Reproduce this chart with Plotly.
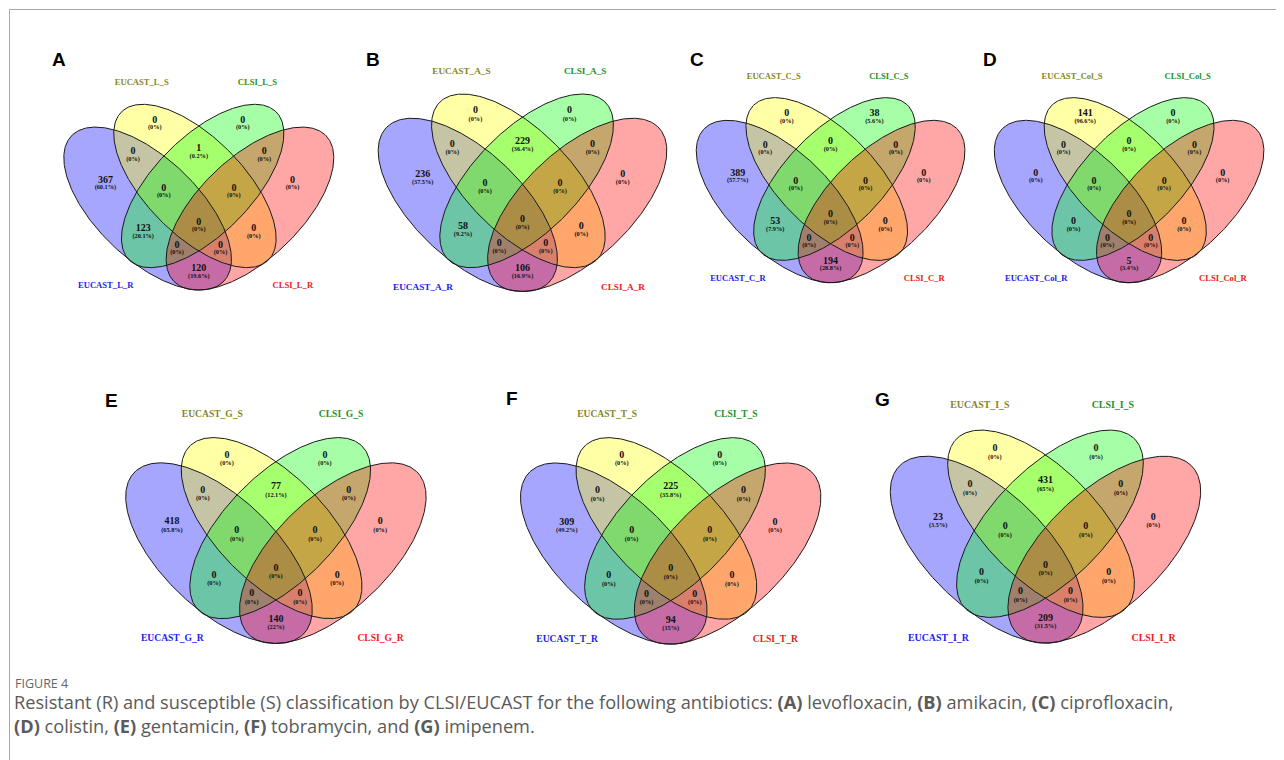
import numpy as np
import plotly.graph_objects as go

# ---------------- data ----------------
panel_letters = ["A", "B", "C", "D", "E", "F", "G"]
drug_codes = ["L", "A", "C", "Col", "G", "T", "I"]
# region order: Y=EUCAST_S, G=CLSI_S, B=EUCAST_R, R=CLSI_R
region_keys = ["Y", "G", "BY", "YG", "GR", "B", "R", "BYG", "YGR", "BYGR", "BG", "RY", "BGR", "BYR", "BR"]
counts_A = [0, 0, 0, 1, 0, 367, 0, 0, 0, 0, 123, 0, 0, 0, 120]
counts_B = [0, 0, 0, 229, 0, 236, 0, 0, 0, 0, 58, 0, 0, 0, 106]
counts_C = [0, 38, 0, 0, 0, 389, 0, 0, 0, 0, 53, 0, 0, 0, 194]
counts_D = [141, 0, 0, 0, 0, 0, 0, 0, 0, 0, 0, 0, 0, 0, 5]
counts_E = [0, 0, 0, 77, 0, 418, 0, 0, 0, 0, 0, 0, 0, 0, 140]
counts_F = [0, 0, 0, 225, 0, 309, 0, 0, 0, 0, 0, 0, 0, 0, 94]
counts_G = [0, 0, 0, 431, 0, 23, 0, 0, 0, 0, 0, 0, 0, 0, 209]
all_counts = [counts_A, counts_B, counts_C, counts_D, counts_E, counts_F, counts_G]

caption_title = "FIGURE 4"
caption_text = ("Resistant (R) and susceptible (S) classification by CLSI/EUCAST for the following antibiotics: "
                "<b>(A)</b> levofloxacin, <b>(B)</b> amikacin, <b>(C)</b> ciprofloxacin,<br>"
                "<b>(D)</b> colistin, <b>(E)</b> gentamicin, <b>(F)</b> tobramycin, and <b>(G)</b> imipenem.")

# ---------------- geometry (4-set ellipse Venn layout, unit square) ----------------
# draw order: EUCAST_R (blue), EUCAST_S (yellow), CLSI_S (green), CLSI_R (red)
# (centre x, centre y, semi-major, semi-minor, angle of major axis in degrees, fill)
ellipses = [
    (0.328, 0.467, 0.361, 0.174, -45.5, "rgba(0,0,255,0.35)"),
    (0.487, 0.546, 0.358, 0.167, -47.0, "rgba(255,255,0,0.35)"),
    (0.513, 0.546, 0.358, 0.167, 47.0, "rgba(0,255,0,0.35)"),
    (0.672, 0.467, 0.361, 0.174, 45.5, "rgba(255,0,0,0.35)"),
]
region_pos = {
    "Y": (0.352, 0.776), "G": (0.648, 0.776),
    "BY": (0.279, 0.665), "YG": (0.500, 0.677), "GR": (0.720, 0.665),
    "B": (0.186, 0.566), "R": (0.815, 0.566),
    "BYG": (0.382, 0.538), "YGR": (0.618, 0.538),
    "BYGR": (0.500, 0.420),
    "BG": (0.313, 0.397), "RY": (0.685, 0.397),
    "BGR": (0.427, 0.339), "BYR": (0.573, 0.339),
    "BR": (0.500, 0.258),
}
cat_pos = [(0.308, 0.905), (0.697, 0.905), (0.187, 0.196), (0.816, 0.196)]
cat_colors = ["#86861a", "#23922a", "#2020f0", "#f01818"]

# page pixels -> figure pixels (the page body has an 8px margin)
OFF = 8
W, H = 1284, 760
# panel placement in page pixels: centre x, x-scale, y of v=0.905, y-scale
placement = [
    (198.8, 297.5, 83.3, 286),
    (522.5, 318.0, 71.7, 304),
    (830.6, 296.0, 76.7, 285),
    (1129.1, 297.0, 76.7, 285),
    (275.9, 331.0, 414.3, 317),
    (670.7, 331.0, 414.3, 318),
    (1045.5, 342.0, 406.0, 328),
]
letter_pos = [(58.8, 59), (373.3, 59), (696.7, 60), (990, 59), (111.7, 400), (512.5, 398), (882.5, 399)]


def fx(px):
    return (px - OFF) / W


def fy(py):
    return 1 - (py - OFF) / H


def fmt_pct(c, tot):
    p = round(100.0 * c / tot, 1)
    return f"({p:g}%)"


fig = go.Figure()
layout_axes = {}
t = np.linspace(0, 2 * np.pi, 361)

for i, (counts, code) in enumerate(zip(all_counts, drug_codes)):
    n = i + 1
    xa = "x" if n == 1 else f"x{n}"
    ya = "y" if n == 1 else f"y{n}"
    cx, sx, y905, sy = placement[i]
    left = cx - 0.5 * sx
    right = cx + 0.5 * sx
    top = y905 - (1 - 0.905) * sy
    bottom = y905 + 0.905 * sy
    layout_axes["xaxis" if n == 1 else f"xaxis{n}"] = dict(
        domain=[fx(left), fx(right)], range=[0, 1], visible=False, fixedrange=True, anchor=ya)
    layout_axes["yaxis" if n == 1 else f"yaxis{n}"] = dict(
        domain=[fy(bottom), fy(top)], range=[0, 1], visible=False, fixedrange=True, anchor=xa)

    outlines = []
    for (ex, ey, a, b, rot, col) in ellipses:
        r = np.deg2rad(rot)
        xs = ex + a * np.cos(t) * np.cos(r) - b * np.sin(t) * np.sin(r)
        ys = ey + a * np.cos(t) * np.sin(r) + b * np.sin(t) * np.cos(r)
        fig.add_trace(go.Scatter(x=xs, y=ys, mode="lines", fill="toself", fillcolor=col,
                                 line=dict(width=0, color="rgba(0,0,0,0)"),
                                 hoverinfo="skip", showlegend=False, xaxis=xa, yaxis=ya))
        outlines.append((xs, ys))
    for xs, ys in outlines:
        fig.add_trace(go.Scatter(x=xs, y=ys, mode="lines", line=dict(width=1, color="#1a1a1a"),
                                 hoverinfo="skip", showlegend=False, xaxis=xa, yaxis=ya))

    tot = sum(counts)
    px = [region_pos[k][0] for k in region_keys]
    py = [region_pos[k][1] for k in region_keys]
    fig.add_trace(go.Scatter(
        x=px, y=py, mode="text", text=[str(c) for c in counts], textposition="middle center",
        textfont=dict(family="Liberation Serif", size=10, color="#111111", weight="bold"),
        hoverinfo="skip", showlegend=False, cliponaxis=False, xaxis=xa, yaxis=ya))
    fig.add_trace(go.Scatter(
        x=px, y=[v - 7.6 / 286 for v in py], mode="text", text=[fmt_pct(c, tot) for c in counts],
        textposition="middle center",
        textfont=dict(family="Liberation Serif", size=6.3, color="#111111", weight="bold"),
        hoverinfo="skip", showlegend=False, cliponaxis=False, xaxis=xa, yaxis=ya))

    cat_names = [f"EUCAST_{code}_S", f"CLSI_{code}_S", f"EUCAST_{code}_R", f"CLSI_{code}_R"]
    fs = 8.6 * sx / 297.5
    fig.add_trace(go.Scatter(
        x=[p[0] for p in cat_pos], y=[p[1] for p in cat_pos], mode="text", text=cat_names,
        textposition="middle center",
        textfont=dict(family="Liberation Serif", size=fs, color=cat_colors, weight="bold"),
        hoverinfo="skip", showlegend=False, cliponaxis=False, xaxis=xa, yaxis=ya))

annotations = []
for letter, (lx, ly) in zip(panel_letters, letter_pos):
    annotations.append(dict(x=fx(lx), y=fy(ly), xref="paper", yref="paper", text=f"<b>{letter}</b>",
                            showarrow=False, xanchor="center", yanchor="middle",
                            font=dict(family="Liberation Sans", size=19, color="black")))

annotations.append(dict(x=fx(13), y=fy(683), xref="paper", yref="paper", text=caption_title,
                        showarrow=False, xanchor="left", yanchor="middle",
                        font=dict(family="Open Sans", size=12.5, color="#666666")))
annotations.append(dict(x=fx(12), y=fy(713.5), xref="paper", yref="paper", text=caption_text,
                        showarrow=False, xanchor="left", yanchor="middle", align="left",
                        font=dict(family="Open Sans", size=18.2, color="#5a5a5a")))

shapes = [
    dict(type="line", xref="paper", yref="paper", x0=fx(9.5), x1=fx(9.5), y0=0, y1=fy(9.5),
         line=dict(color="#a8a8a8", width=1)),
    dict(type="line", xref="paper", yref="paper", x0=fx(9.5), x1=1, y0=fy(9.5), y1=fy(9.5),
         line=dict(color="#a8a8a8", width=1)),
]

fig.update_layout(
    width=W, height=H, autosize=False,
    margin=dict(l=0, r=0, t=0, b=0),
    paper_bgcolor="white", plot_bgcolor="white",
    annotations=annotations, shapes=shapes, showlegend=False,
    **layout_axes,
)

fig.write_html("out.html")
